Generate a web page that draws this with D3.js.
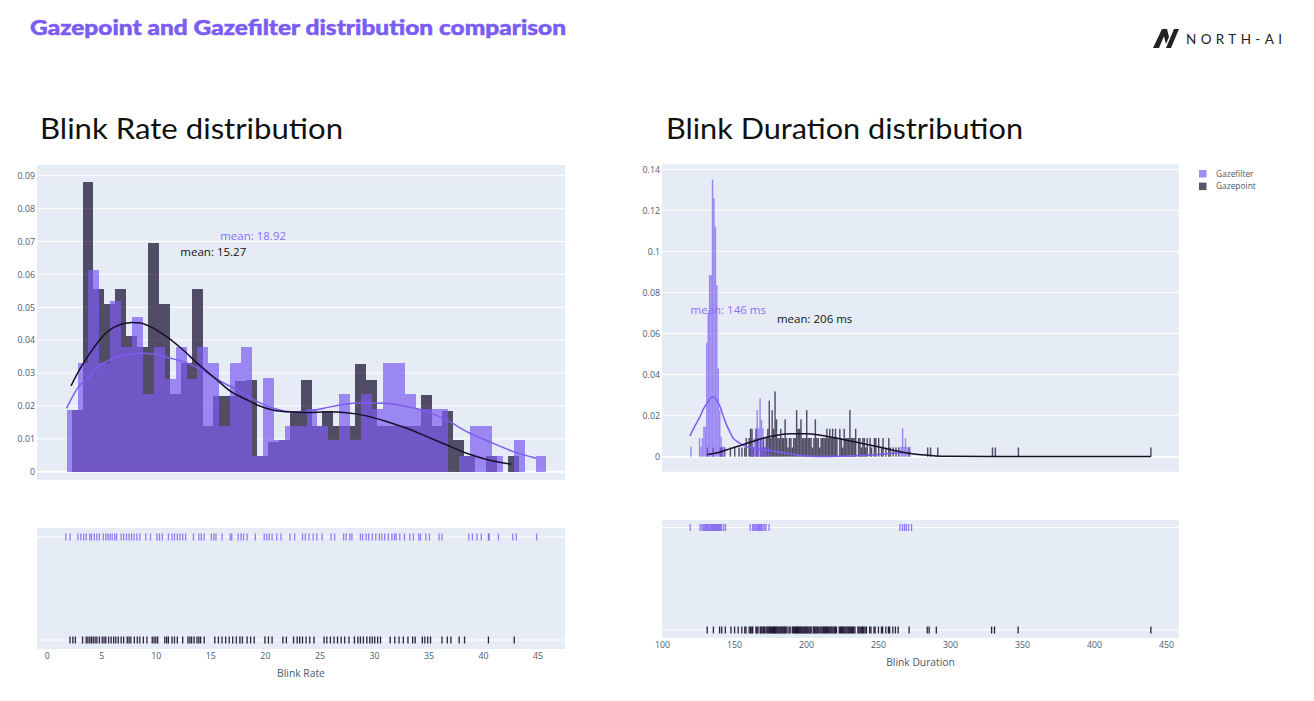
<!DOCTYPE html>
<html><head><meta charset="utf-8">
<script src="https://cdn.jsdelivr.net/npm/d3@7"></script>
<style>body{margin:0;background:#fff;}svg{display:block}</style>
</head><body>
<svg id="c" width="1314" height="701"></svg>
<script>
// ---------------- DATA ----------------
const seriesNames = ["Gazefilter", "Gazepoint"];
const pageTitle = "Gazepoint and Gazefilter distribution comparison";
const chartTitles = ["Blink Rate distribution", "Blink Duration distribution"];
const axisTitles = ["Blink Rate", "Blink Duration"];

// Blink rate: histograms (bin size 1, probability density), start = min of data
const rateBinSize = 1;
const rateFilterStart = 1.82;
const rateFilterDensity = [0.0188,0.033,0.0613,0.033,0.052,0.0378,0.0471,0.0236,0.0378,0.0282,0.0378,0.0282,0.0378,0.033,0.014,0.033,0.0378,0.0048,0.0284,0.0096,0.014,0.014,0.019,0.014,0.0096,0.0236,0.0096,0.0236,0.019,0.033,0.033,0.0236,0.019,0.019,0.019,0,0.0048,0.014,0.014,0.0048,0,0.0096,0,0.0048];
const ratePointStart = 2.28;
const ratePointDensity = [0.0188,0.088,0.0555,0.051,0.0555,0.0413,0.0378,0.0694,0.051,0.0236,0.033,0.0555,0.014,0.0229,0.0229,0.0277,0.0278,0.0048,0.0091,0.0096,0.0182,0.0278,0.014,0.0185,0.014,0.014,0.0326,0.0278,0.014,0.014,0.014,0.014,0.0233,0.014,0.0185,0.0096,0.0048,0,0.0048,0,0.0048];
// Blink rate: KDE curves
const rateFilterKdeX = [1.82,2.9,3.8,4.6,5.4,6.5,7.5,8.7,10.0,11.0,12.9,14.6,16.1,17.7,19.3,20.8,22.3,23.9,25.4,26.9,28.8,30.9,33.0,34.9,36.7,38.5,40.6,42.8,44.9];
const rateFilterKdeY = [0.0193,0.0258,0.0285,0.0318,0.0334,0.035,0.0356,0.036,0.0357,0.0348,0.033,0.0302,0.0272,0.0245,0.0213,0.0193,0.0182,0.0184,0.0193,0.0203,0.021,0.0208,0.0198,0.0182,0.0157,0.0122,0.0091,0.0061,0.0041];
const ratePointKdeX = [2.22,3.0,3.8,4.6,5.3,6.1,6.9,7.8,8.6,9.3,10.1,10.9,12.4,13.9,15.5,17.0,18.2,19.3,20.8,22.3,23.9,25.7,27.5,29.4,31.2,33.0,34.9,36.7,38.5,40.6,42.6];
const ratePointKdeY = [0.0261,0.031,0.0353,0.039,0.0418,0.0438,0.0449,0.0454,0.0452,0.0444,0.043,0.0413,0.0373,0.0327,0.0282,0.0241,0.0221,0.0203,0.0187,0.0182,0.018,0.0182,0.0179,0.0169,0.0152,0.0132,0.0106,0.0081,0.0056,0.0035,0.0023];
// Blink rate: rug values
const rateFilterRug = [1.74,2.13,2.85,3.12,3.38,3.61,3.94,4.1,4.36,4.59,4.82,5.18,5.41,5.61,5.8,6.0,6.23,6.4,6.82,7.05,7.31,7.54,7.77,8.0,8.26,8.53,9.08,9.51,10.1,10.33,10.59,11.15,11.48,11.71,11.97,12.2,12.46,12.73,13.45,13.94,14.17,14.43,15.09,15.32,15.51,16.07,16.82,16.96,17.55,17.81,18.04,18.37,19.12,19.94,20.17,20.4,20.66,21.09,21.48,22.3,22.73,23.45,23.71,24.04,24.43,24.76,25.25,26.07,26.4,27.22,27.45,27.78,27.98,28.76,28.96,29.29,29.52,29.85,30.17,30.5,30.73,30.99,31.32,31.65,31.88,32.04,32.37,32.8,33.29,33.62,34.11,34.27,34.76,35.09,35.98,36.24,38.7,39.03,39.45,39.85,40.5,40.57,41.42,42.73,43.06,44.93];
const ratePointRug = [2.13,2.39,2.62,3.28,3.61,3.77,3.94,4.1,4.26,4.43,4.59,4.82,5.08,5.25,5.41,5.67,5.9,6.13,6.33,6.56,6.82,7.05,7.38,7.54,7.71,8.03,8.3,8.53,8.85,9.18,9.67,9.84,10.0,10.17,10.82,10.99,11.15,11.48,11.71,11.97,12.46,12.95,13.12,13.28,13.51,13.77,13.94,14.1,14.43,15.41,15.74,16.07,16.4,16.73,17.05,17.38,17.71,17.94,18.37,18.69,19.02,20.01,20.33,20.66,21.65,21.97,22.63,22.96,23.19,23.45,23.78,24.11,24.5,25.42,25.68,26.01,26.34,26.66,26.99,27.32,27.71,28.21,28.53,28.76,29.03,29.35,29.62,29.85,30.07,30.34,30.6,31.49,31.91,32.3,32.7,33.12,33.55,33.78,34.44,34.67,34.93,35.19,36.24,36.73,37.06,37.82,38.31,40.5,42.87];

// Blink duration: histograms (bin size 1 ms), bin left edges + density
const durFilterBins = [119.6,125.6,126.6,127.6,128.6,129.6,130.6,131.6,132.6,133.6,134.6,135.6,136.6,137.6,138.6,139.6,140.6,141.6,142.6,161.6,162.6,163.6,164.6,165.6,166.6,167.6,168.6,169.6,170.6,171.6,173.6,265.6,266.6,267.6,268.6,269.6,271.6];
const durFilterDensity = [0.0049,0.009,0.0049,0.009,0.0146,0.0146,0.0555,0.07,0.0885,0.0885,0.135,0.126,0.112,0.0836,0.043,0.0227,0.0097,0.0049,0.0049,0.0049,0.0049,0.009,0.0138,0.0227,0.0138,0.0284,0.018,0.0138,0.0049,0.0049,0.0049,0.0049,0.0138,0.0049,0.009,0.0049,0.0049];
const durPointBins = [131,135,140,141,143,147,150,153,155,157,158,160,161,162,163,165,166,168,169,170,171,172,173,174,175,176,177,178,179,180,181,182,183,184,185,186,187,188,189,190,191,192,193,194,195,196,197,198,199,200,201,202,203,204,205,206,207,208,209,210,211,212,213,214,215,216,217,218,219,220,221,223,224,225,226,227,228,229,230,231,232,233,234,236,237,238,239,240,241,242,244,245,247,248,250,252,253,255,257,258,260,262,264,271,284,286,291,329,331,347,439];
const durPointDensity = [0.0045,0.0045,0.0045,0.0045,0.0045,0.0045,0.0045,0.0045,0.0045,0.0045,0.0091,0.0091,0.0136,0.0136,0.0045,0.0136,0.0091,0.0091,0.0045,0.0091,0.0045,0.0091,0.0136,0.0273,0.0091,0.0227,0.0136,0.0318,0.0182,0.0091,0.0091,0.0136,0.0091,0.0091,0.0182,0.0091,0.0045,0.0091,0.0091,0.0045,0.0091,0.0091,0.0227,0.0136,0.0136,0.0182,0.0091,0.0091,0.0091,0.0227,0.0091,0.0091,0.0091,0.0045,0.0091,0.0182,0.0091,0.0091,0.0045,0.0091,0.0091,0.0091,0.0091,0.0136,0.0091,0.0136,0.0091,0.0136,0.0091,0.0136,0.0091,0.0136,0.0091,0.0045,0.0136,0.0091,0.0091,0.0091,0.0227,0.0091,0.0091,0.0091,0.0136,0.0091,0.0091,0.0045,0.0091,0.0091,0.0045,0.0091,0.0091,0.0045,0.0091,0.0091,0.0091,0.0045,0.0091,0.0045,0.0091,0.0045,0.0045,0.0045,0.0045,0.0045,0.0045,0.0045,0.0045,0.0045,0.0045,0.0045,0.0045];
// Blink duration: KDE curves
const durFilterKdeX = [119.4,122.5,126.4,129,131.5,133.5,135.6,138,140.3,142.5,144.9,147.2,149.5,152,154.2,158.8,163,168.1,175,182,190,200,215,230,245,258,266,273];
const durFilterKdeY = [0.0101,0.0145,0.0195,0.0235,0.0263,0.0284,0.0292,0.0275,0.0244,0.0198,0.0154,0.012,0.0089,0.0075,0.0065,0.0049,0.0042,0.0037,0.003,0.0022,0.0012,0.0004,0.0001,0.0003,0.0008,0.0015,0.0019,0.002];
const durPointKdeX = [131.5,140,147,155,162,170,180,190,200,210,220,230,240,250,260,270,280,290,300,330,350,400,439.5];
const durPointKdeY = [0.0011,0.0022,0.0038,0.0056,0.0072,0.009,0.0105,0.0112,0.0112,0.0105,0.0092,0.0078,0.0063,0.0048,0.0032,0.0018,0.0009,0.0004,0.0002,0.0001,0.0001,0.0001,0.0001];
// Blink duration: rug values
const durFilterRug = [119.6,126.4,127.7,128.5,129.3,130.1,130.8,131.4,132.0,132.7,133.3,134.0,134.6,135.2,135.9,136.5,137.2,137.8,138.5,139.2,139.9,140.6,141.4,142.8,144.1,161.2,162.9,163.8,164.6,165.4,166.1,166.9,167.6,168.4,169.2,170.1,171.2,172.3,174.4,265.3,267.0,268.4,269.6,271.2,273.3];
const durPointRug = [131.4,135.7,140.0,141.5,144.0,147.9,150.4,152.9,155.4,157.5,158.3,160.5,161.5,162.4,163.0,165.2,165.9,166.7,168.2,168.8,169.5,170.4,171.1,172.2,172.9,173.6,174.3,174.8,175.5,176.2,176.8,177.4,178.1,178.6,179.2,179.9,180.5,181.3,182.0,182.7,183.4,184.1,184.8,185.4,186.0,186.8,188.2,189.0,190.5,191.3,192.1,192.8,193.4,194.0,194.7,195.3,196.0,196.6,197.3,198.0,198.7,199.4,200.1,200.7,201.4,202.1,202.9,203.6,205.0,205.7,206.3,207.0,207.8,208.5,209.6,210.4,211.2,212.0,212.7,213.5,214.2,215.0,215.8,216.5,217.3,218.0,218.8,219.6,220.4,221.2,223.1,223.9,224.6,225.4,226.2,227.0,227.8,228.5,229.3,230.0,230.7,231.5,232.3,233.1,234.0,236.0,236.8,237.6,238.5,239.3,240.1,241.0,242.0,244.2,245.1,247.2,248.0,250.3,252.4,253.2,255.4,257.2,258.1,260.3,262.1,264.0,271.6,284.2,285.5,290.5,328.9,330.9,347.3,439.5];

// means and annotations
const rateMeans = [18.92, 15.27];
const rateMeanLabels = ["mean: 18.92", "mean: 15.27"];
const durMeans = [146, 206];
const durMeanLabels = ["mean: 146 ms", "mean: 206 ms"];
const annotY = [0.0716, 0.0669];

// ticks
const rateYTicks = [0, 0.01, 0.02, 0.03, 0.04, 0.05, 0.06, 0.07, 0.08, 0.09];
const rateXTicks = [0, 5, 10, 15, 20, 25, 30, 35, 40, 45];
const durYTicks = [0, 0.02, 0.04, 0.06, 0.08, 0.1, 0.12, 0.14];
const durXTicks = [100, 150, 200, 250, 300, 350, 400, 450];

// ---------------- STYLE ----------------
const PURPLE = "#7c5cf0", DARK = "#140a2a";
const BG = "#e5ecf6", GRID = "#ffffff";
const TICKC = "#4b5a70";
const FONT = "'Open Sans', 'Noto Sans', sans-serif";

const svg = d3.select("#c");

// Header
svg.append("text").attr("x", 30).attr("y", 35).text(pageTitle)
  .attr("font-family", "Lato, 'DejaVu Sans', sans-serif").attr("font-weight", 900)
  .attr("font-size", 21.5).attr("fill", "#7b5cf5").attr("stroke", "#7b5cf5").attr("stroke-width", 0.5)
  .attr("textLength", 536).attr("lengthAdjust", "spacingAndGlyphs");

// Logo
const logo = svg.append("g").attr("fill", "#222");
logo.append("path").attr("d", "M1153,48 L1159,48 L1167,29 L1162,29 Z");
logo.append("path").attr("d", "M1162,29 L1167,29 L1169,37 L1166,44 Z");
logo.append("path").attr("d", "M1166,48 L1171,48 L1179,29 L1174,29 Z");
svg.append("text").attr("x", 1186).attr("y", 44).text("NORTH-AI")
  .attr("font-family", "Lato, 'Open Sans', sans-serif").attr("font-size", 13.5)
  .attr("fill", "#222").attr("textLength", 96).attr("lengthAdjust", "spacing");

function zip(a, b) { return a.map((v, i) => [v, b[i]]); }

function drawChart(cfg) {
  const { x, y, main, rug, title, titleX, titleW } = cfg;
  svg.append("text").attr("x", titleX).attr("y", 139).text(title)
    .attr("font-family", "Lato, 'Open Sans', sans-serif").attr("font-size", 29)
    .attr("fill", "#111").attr("textLength", titleW).attr("lengthAdjust", "spacingAndGlyphs");

  // main plot
  svg.append("rect").attr("x", main.x0).attr("y", main.y0)
    .attr("width", main.x1 - main.x0).attr("height", main.y1 - main.y0).attr("fill", BG);
  const gg = svg.append("g");
  gg.selectAll("line").data(cfg.yTicks).join("line")
    .attr("x1", main.x0).attr("x2", main.x1)
    .attr("y1", d => y(d)).attr("y2", d => y(d))
    .attr("stroke", GRID).attr("stroke-width", d => d === 0 ? 2 : 1);
  const yAx = svg.append("g").attr("transform", `translate(${main.x0 - 1},0)`)
    .call(d3.axisLeft(y).tickValues(cfg.yTicks).tickSize(0).tickPadding(1).tickFormat(d => String(d)));
  yAx.select(".domain").remove();
  yAx.selectAll("text").attr("font-family", FONT).attr("font-size", 8.8).attr("fill", TICKC);

  const clipId = "clip" + cfg.id;
  svg.append("clipPath").attr("id", clipId).append("rect")
    .attr("x", main.x0).attr("y", main.y0).attr("width", main.x1 - main.x0).attr("height", main.y1 - main.y0);
  const plot = svg.append("g").attr("clip-path", `url(#${clipId})`);

  // histograms: dark first, purple on top (overlay, opacity 0.7)
  cfg.hists.forEach(h => {
    plot.append("g").selectAll("rect").data(h.bins).join("rect")
      .attr("x", d => x(d[0])).attr("width", d => x(d[0] + h.size) - x(d[0]))
      .attr("y", d => y(d[1])).attr("height", d => y(0) - y(d[1]))
      .attr("fill", h.color).attr("fill-opacity", 0.7)
      .attr("shape-rendering", cfg.crisp ? "crispEdges" : "auto");
  });
  // KDE curves
  const line = d3.line().x(d => x(d[0])).y(d => y(d[1])).curve(d3.curveMonotoneX);
  cfg.kdes.forEach(k => {
    plot.append("path").attr("d", line(k.pts)).attr("fill", "none")
      .attr("stroke", k.color).attr("stroke-width", 1.5);
  });
  // annotations
  cfg.annots.forEach(a => {
    svg.append("text").attr("x", x(a.x)).attr("y", y(a.y) + 4).attr("text-anchor", "middle")
      .text(a.text).attr("font-family", FONT).attr("font-size", 11.5).attr("fill", a.color);
  });

  // rug panel
  svg.append("rect").attr("x", rug.x0).attr("y", rug.y0)
    .attr("width", rug.x1 - rug.x0).attr("height", rug.y1 - rug.y0).attr("fill", BG);
  cfg.rugs.forEach(r => {
    svg.append("line").attr("x1", rug.x0).attr("x2", rug.x1).attr("y1", r.row).attr("y2", r.row)
      .attr("stroke", GRID).attr("stroke-width", 1);
    svg.append("g").selectAll("line").data(r.vals).join("line")
      .attr("x1", d => x(d)).attr("x2", d => x(d))
      .attr("y1", r.row - 3.5).attr("y2", r.row + 3.5)
      .attr("stroke", r.color).attr("stroke-width", 1.3).attr("stroke-opacity", r.op);
  });
  const xAx = svg.append("g").attr("transform", `translate(0,${rug.y1})`)
    .call(d3.axisBottom(x).tickValues(cfg.xTicks).tickSize(0).tickPadding(4));
  xAx.select(".domain").remove();
  xAx.selectAll("text").attr("font-family", FONT).attr("font-size", 8.8).attr("fill", TICKC);
  svg.append("text").attr("x", (rug.x0 + rug.x1) / 2).attr("y", rug.y1 + 27.5)
    .attr("text-anchor", "middle").text(cfg.axisTitle)
    .attr("font-family", FONT).attr("font-size", 10.3).attr("fill", TICKC);
}

// Left chart: Blink rate
const rateX = d3.scaleLinear().domain([0, 45]).range([46.8, 537.5]);
const rateY = d3.scaleLinear().domain([0, 0.09]).range([471.7, 175.7]);
drawChart({
  id: "rate", x: rateX, y: rateY, crisp: true,
  main: { x0: 37, x1: 565, y0: 165, y1: 480 },
  rug: { x0: 37, x1: 565, y0: 528, y1: 649 },
  title: chartTitles[0], titleX: 40, titleW: 303, axisTitle: axisTitles[0],
  yTicks: rateYTicks, xTicks: rateXTicks,
  hists: [
    { color: DARK, size: rateBinSize, bins: ratePointDensity.map((v, i) => [ratePointStart + i * rateBinSize, v]) },
    { color: PURPLE, size: rateBinSize, bins: rateFilterDensity.map((v, i) => [rateFilterStart + i * rateBinSize, v]) }
  ],
  kdes: [
    { color: PURPLE, pts: zip(rateFilterKdeX, rateFilterKdeY) },
    { color: "#160f29", pts: zip(ratePointKdeX, ratePointKdeY) }
  ],
  annots: [
    { x: rateMeans[0], y: annotY[0], text: rateMeanLabels[0], color: "#8b6ff5" },
    { x: rateMeans[1], y: annotY[1], text: rateMeanLabels[1], color: "#111" }
  ],
  rugs: [
    { row: 537, vals: rateFilterRug, color: "#7c5cf0", op: 0.8 },
    { row: 640, vals: ratePointRug, color: "#140a2a", op: 0.9 }
  ]
});

// Right chart: Blink duration
const durX = d3.scaleLinear().domain([100, 450]).range([662, 1166]);
const durY = d3.scaleLinear().domain([0, 0.14]).range([456.7, 169.3]);
drawChart({
  id: "dur", x: durX, y: durY, crisp: false,
  main: { x0: 662, x1: 1179, y0: 164.3, y1: 471.7 },
  rug: { x0: 662, x1: 1179, y0: 520, y1: 638 },
  title: chartTitles[1], titleX: 666, titleW: 357, axisTitle: axisTitles[1],
  yTicks: durYTicks, xTicks: durXTicks,
  hists: [
    { color: DARK, size: 1, bins: zip(durPointBins, durPointDensity) },
    { color: PURPLE, size: 1, bins: zip(durFilterBins, durFilterDensity) }
  ],
  kdes: [
    { color: PURPLE, pts: zip(durFilterKdeX, durFilterKdeY) },
    { color: "#160f29", pts: zip(durPointKdeX, durPointKdeY) }
  ],
  annots: [
    { x: durMeans[0], y: annotY[0], text: durMeanLabels[0], color: "#8b6ff5" },
    { x: durMeans[1], y: annotY[1], text: durMeanLabels[1], color: "#111" }
  ],
  rugs: [
    { row: 527.5, vals: durFilterRug, color: "#7c5cf0", op: 0.8 },
    { row: 630, vals: durPointRug, color: "#140a2a", op: 0.9 }
  ]
});

// Legend
const legend = svg.append("g");
[PURPLE, DARK].forEach((c, i) => {
  legend.append("rect").attr("x", 1199).attr("y", 170 + i * 12.6).attr("width", 7.5).attr("height", 7.5)
    .attr("fill", c).attr("fill-opacity", 0.7);
  legend.append("text").attr("x", 1216).attr("y", 176.7 + i * 12.6).text(seriesNames[i])
    .attr("font-family", FONT).attr("font-size", 8.4).attr("fill", TICKC);
});
</script>
</body></html>
